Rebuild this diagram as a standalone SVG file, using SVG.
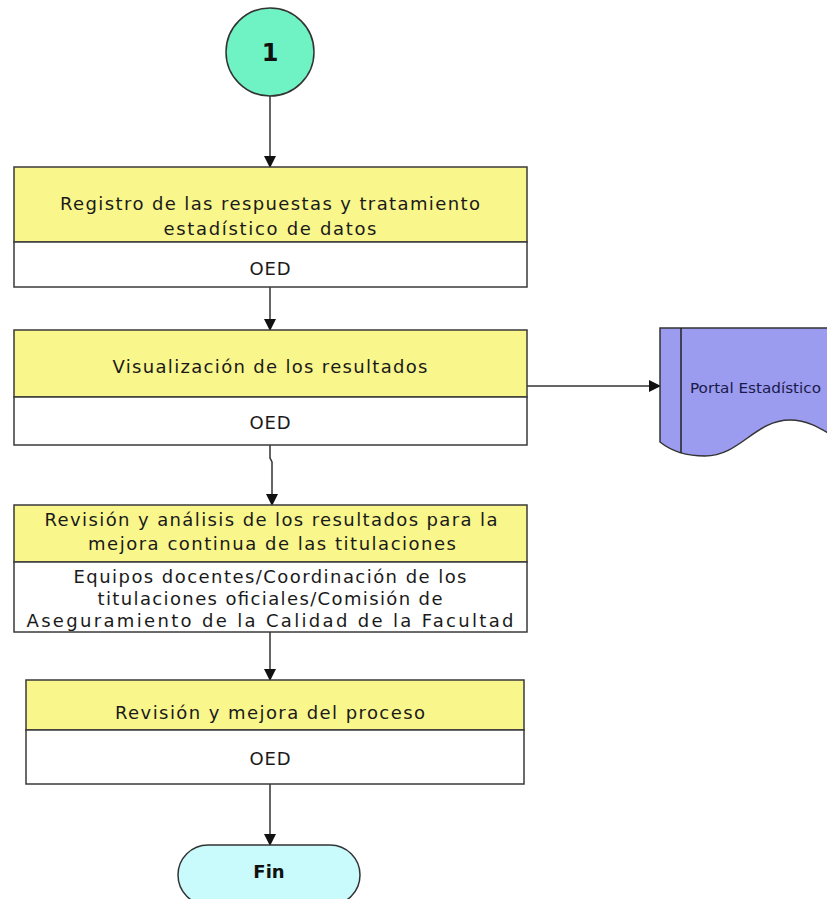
<svg xmlns="http://www.w3.org/2000/svg" width="827" height="899" viewBox="0 0 827 899">
<style>
.box{stroke:#3a3a3a;stroke-width:1.5}
.y{fill:#f9f68c}
.w{fill:#ffffff}
.t{font-family:"DejaVu Sans",Verdana,sans-serif;font-size:18px;fill:#1a1a1a;text-anchor:middle}
.c{stroke:#333;stroke-width:1.5;fill:none;marker-end:url(#ah)}
</style>
<defs>
<marker id="ah" markerWidth="12" markerHeight="12" refX="11" refY="6" orient="auto" markerUnits="userSpaceOnUse">
<path d="M0,0 L12,6 L0,12 Z" fill="#111"/>
</marker>
</defs>
<rect width="827" height="899" fill="#fff"/>
<g id="connectors">
<line class="c" x1="270" y1="96" x2="270" y2="167"/>
<line class="c" x1="270" y1="287" x2="270" y2="330"/>
<line class="c" x1="527" y1="386" x2="660" y2="386"/>
<path class="c" d="M270,445 L270,458 L272,462 L272,505"/>
<line class="c" x1="270" y1="632" x2="270" y2="680"/>
<line class="c" x1="270" y1="784" x2="270" y2="845"/>
</g>
<g id="start">
<circle cx="270" cy="52" r="44" fill="#6ff2c4" stroke="#333" stroke-width="1.5"/>
<text x="270" y="61" font-family="DejaVu Sans,Verdana,sans-serif" font-size="24" font-weight="bold" text-anchor="middle" fill="#111">1</text>
</g>
<g id="step1">
<rect class="box y" x="14" y="167" width="513" height="75"/>
<rect class="box w" x="14" y="242" width="513" height="45"/>
<text class="t" x="270" y="210" textLength="420" lengthAdjust="spacing">Registro de las respuestas y tratamiento</text>
<text class="t" x="270" y="235" textLength="213" lengthAdjust="spacing">estadístico de datos</text>
<text class="t" x="270" y="275" textLength="41" lengthAdjust="spacing">OED</text>
</g>
<g id="step2">
<rect class="box y" x="14" y="330" width="513" height="67"/>
<rect class="box w" x="14" y="397" width="513" height="48"/>
<text class="t" x="270" y="373" textLength="315" lengthAdjust="spacing">Visualización de los resultados</text>
<text class="t" x="270" y="429" textLength="41" lengthAdjust="spacing">OED</text>
</g>
<g id="portal">
<path d="M660,442 C670,450 685,456 705,456 C740,456 755,420 790,420 C808,420 820,428 840,440 V328 H660 Z" fill="#9b9bf0" stroke="#333" stroke-width="1.5"/>
<line x1="681" y1="328" x2="681" y2="453" stroke="#222" stroke-width="1.5"/>
<text x="690" y="393" font-family="'DejaVu Sans Condensed','DejaVu Sans',sans-serif" font-size="14" fill="#1a1a4a" textLength="131" lengthAdjust="spacingAndGlyphs">Portal Estadístico</text>
</g>
<g id="step3">
<rect class="box y" x="14" y="505" width="513" height="57"/>
<rect class="box w" x="14" y="562" width="513" height="70"/>
<text class="t" x="271" y="526" textLength="453" lengthAdjust="spacing">Revisión y análisis de los resultados para la</text>
<text class="t" x="272" y="550" textLength="368" lengthAdjust="spacing">mejora continua de las titulaciones</text>
<text class="t" x="270" y="583" textLength="393" lengthAdjust="spacing">Equipos docentes/Coordinación de los</text>
<text class="t" x="270" y="605" textLength="345" lengthAdjust="spacing">titulaciones oficiales/Comisión de</text>
<text class="t" x="270" y="627" textLength="487" lengthAdjust="spacing">Aseguramiento de la Calidad de la Facultad</text>
</g>
<g id="step4">
<rect class="box y" x="26" y="680" width="498" height="50"/>
<rect class="box w" x="26" y="730" width="498" height="54"/>
<text class="t" x="270" y="719" textLength="310" lengthAdjust="spacing">Revisión y mejora del proceso</text>
<text class="t" x="270" y="765" textLength="41" lengthAdjust="spacing">OED</text>
</g>
<g id="end">
<rect x="178" y="845" width="182" height="60" rx="30" ry="30" fill="#c9fbfd" stroke="#333" stroke-width="1.5"/>
<text x="269" y="878" font-family="DejaVu Sans,Verdana,sans-serif" font-size="18" font-weight="bold" text-anchor="middle" fill="#111">Fin</text>
</g>
</svg>
